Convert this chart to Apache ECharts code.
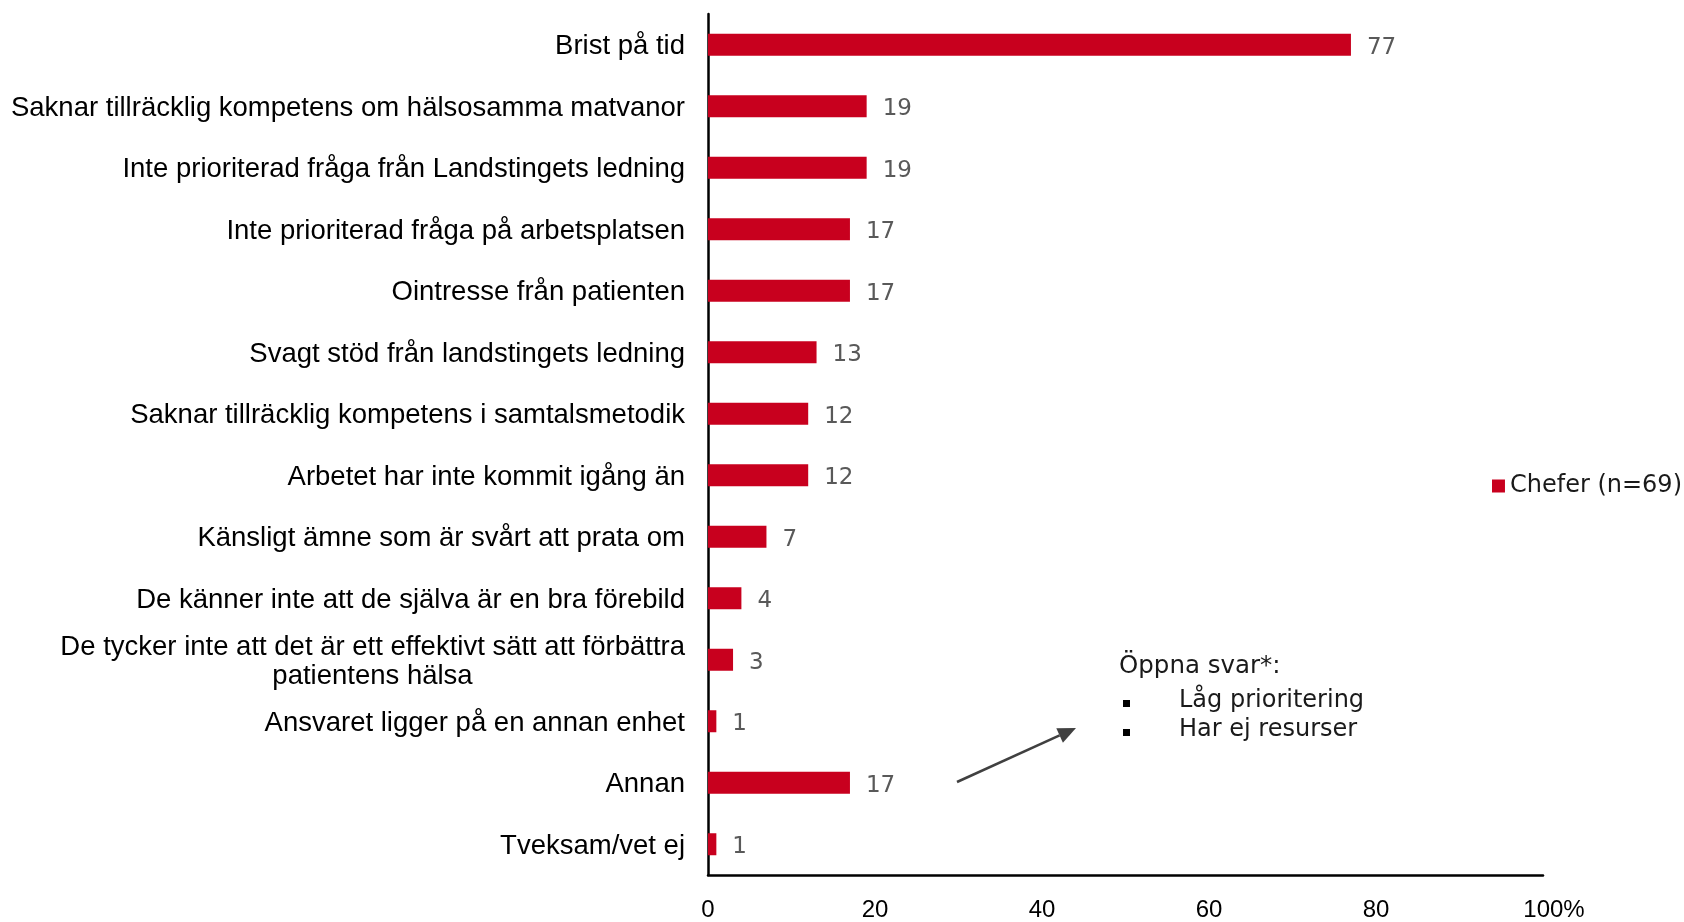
<!DOCTYPE html>
<html>
<head>
<meta charset="utf-8">
<title>Chefer</title>
<script src="https://cdn.jsdelivr.net/npm/echarts@6/dist/echarts.min.js"></script>
<style>
  html, body { margin: 0; padding: 0; background: #fff; }
  #chart { width: 1684px; height: 922px; }
</style>
</head>
<body>
<div id="chart"></div>
<script>
var categories = [
  'Brist på tid',
  'Saknar tillräcklig kompetens om hälsosamma matvanor',
  'Inte prioriterad fråga från Landstingets ledning',
  'Inte prioriterad fråga på arbetsplatsen',
  'Ointresse från patienten',
  'Svagt stöd från landstingets ledning',
  'Saknar tillräcklig kompetens i samtalsmetodik',
  'Arbetet har inte kommit igång än',
  'Känsligt ämne som är svårt att prata om',
  'De känner inte att de själva är en bra förebild',
  'De tycker inte att det är ett effektivt sätt att förbättra\npatientens hälsa',
  'Ansvaret ligger på en annan enhet',
  'Annan',
  'Tveksam/vet ej'
]
var chefer = [77, 19, 19, 17, 17, 13, 12, 12, 7, 4, 3, 1, 17, 1]
var seriesName = 'Chefer (n=69)'
var axisTicks = [0, 20, 40, 60, 80, 100]
var noteTitle = 'Öppna svar*:'
var noteItems = ['Låg prioritering', 'Har ej resurser']

var catSize = 27.5
var catFamily = '"Liberation Sans", Arial, sans-serif'
var ctx = document.createElement('canvas').getContext('2d')
ctx.font = catSize + 'px ' + catFamily

// width of the first line, used to centre the second line under it
function lineWidth(s) {
  return Math.ceil(ctx.measureText(s).width)
}

var chart = echarts.init(document.getElementById('chart'))
var red = '#C8001E'

// arrow from the "Annan" bar towards the open answers
var ax0 = 957, ay0 = 782, ax1 = 1076, ay1 = 728
var dx = ax1 - ax0, dy = ay1 - ay0
var len = Math.sqrt(dx * dx + dy * dy)
var ux = dx / len, uy = dy / len
var headL = 18, headW = 8
var bx = ax1 - ux * headL, by = ay1 - uy * headL

var noteFont = '24px "DejaVu Sans", Verdana, sans-serif'

var graphics = [
  {
    type: 'line',
    shape: { x1: ax0, y1: ay0, x2: bx, y2: by },
    style: { stroke: '#404040', lineWidth: 2.5 }
  },
  {
    type: 'polygon',
    shape: {
      points: [
        [ax1, ay1],
        [bx - uy * headW, by + ux * headW],
        [bx + uy * headW, by - ux * headW]
      ]
    },
    style: { fill: '#404040' }
  },
  {
    type: 'text',
    left: 1119,
    top: 654,
    style: { text: noteTitle, font: '24.5px "DejaVu Sans", Verdana, sans-serif', fill: '#1a1a1a' }
  }
]
noteItems.forEach(function(t, i) {
  graphics.push({
    type: 'rect',
    shape: { x: 1123, y: 700 + i * 29, width: 7, height: 7 },
    style: { fill: '#000' }
  })
  graphics.push({
    type: 'text',
    left: 1179,
    top: 689 + i * 29,
    style: { text: t, font: noteFont, fill: '#1a1a1a' }
  })
})

chart.setOption({
  animation: false,
  backgroundColor: '#fff',
  grid: {
    left: 708,
    right: 141,
    top: 14,
    bottom: 47
  },
  legend: {
    data: [seriesName],
    right: 2,
    top: 474,
    padding: 0,
    icon: 'rect',
    itemWidth: 13,
    itemHeight: 13,
    textStyle: {
      fontFamily: '"DejaVu Sans", Verdana, sans-serif',
      fontSize: 24,
      color: '#1a1a1a'
    }
  },
  xAxis: {
    type: 'value',
    min: 0,
    max: 100,
    interval: 20,
    splitLine: { show: false },
    axisTick: { show: false },
    axisLine: { show: true, lineStyle: { color: '#000', width: 2.5 } },
    axisLabel: {
      margin: 23,
      color: '#000',
      fontFamily: catFamily,
      fontSize: 24,
      formatter: function(v) {
        if (v === axisTicks[axisTicks.length - 1]) {
          return '{p|' + v + '%}'
        }
        return String(v)
      },
      rich: {
        p: {
          fontFamily: catFamily,
          fontSize: 24,
          color: '#000',
          padding: [0, 0, 0, 22]
        }
      }
    }
  },
  yAxis: {
    type: 'category',
    inverse: true,
    data: categories,
    axisTick: { show: false },
    axisLine: { show: true, lineStyle: { color: '#000', width: 2.5 } },
    axisLabel: {
      margin: 23,
      color: '#000',
      fontFamily: catFamily,
      fontSize: catSize,
      lineHeight: 29,
      padding: [4, 0, 0, 0],
      formatter: function(v) {
        var parts = v.split('\n')
        if (parts.length === 1) {
          return v
        }
        return '{a|' + parts[0] + '}\n{b|' + parts[1] + '}'
      },
      rich: {
        a: {
          fontFamily: catFamily,
          fontSize: catSize,
          lineHeight: 29,
          color: '#000'
        },
        b: {
          fontFamily: catFamily,
          fontSize: catSize,
          lineHeight: 29,
          color: '#000',
          width: lineWidth(categories[10].split('\n')[0]),
          align: 'center'
        }
      }
    }
  },
  series: [{
    name: seriesName,
    type: 'bar',
    data: chefer,
    barWidth: 22,
    itemStyle: { color: red },
    label: {
      show: true,
      position: 'right',
      distance: 16,
      offset: [0, 3],
      color: '#595959',
      fontFamily: '"DejaVu Sans", Verdana, sans-serif',
      fontSize: 23
    }
  }],
  graphic: graphics
})
</script>
</body>
</html>
